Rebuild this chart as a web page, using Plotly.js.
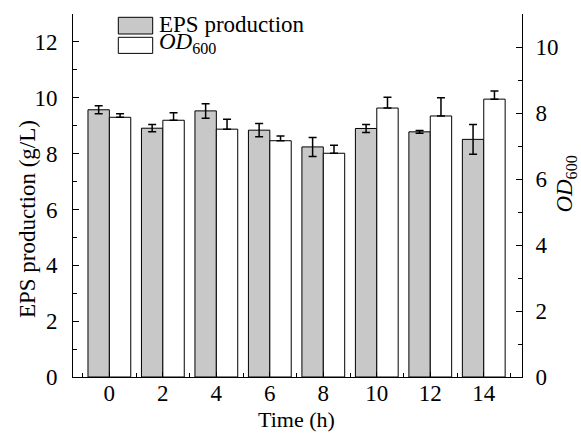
<!DOCTYPE html>
<html>
<head>
<meta charset="utf-8">
<script src="https://cdn.plot.ly/plotly-3.0.1.min.js"></script>
<style>html,body{margin:0;padding:0;background:#fff;}#chart{width:581px;height:433px;}</style>
</head>
<body>
<div id="chart"></div>
<script>
// Data
var time = [0, 2, 4, 6, 8, 10, 12, 14];
var epsProduction = [9.57, 8.91, 9.53, 8.84, 8.24, 8.90, 8.78, 8.51];
var epsError = [0.14, 0.13, 0.26, 0.24, 0.34, 0.14, 0.05, 0.53];
var od600 = [7.87, 7.78, 7.51, 7.16, 6.78, 8.15, 7.91, 8.42];
var odError = [0.11, 0.23, 0.30, 0.14, 0.24, 0.33, 0.55, 0.25];
var xTickVals = [0, 2, 4, 6, 8, 10, 12, 14];
var yTickVals = [0, 2, 4, 6, 8, 10, 12];
var y2TickVals = [0, 2, 4, 6, 8, 10];

var FONT = '"Liberation Serif", "Times New Roman", serif';
var zeros = od600.map(function(){ return 0; });

var traces = [
  {
    type: 'bar', name: 'EPS production', x: time, y: epsProduction,
    width: 0.8, offset: -0.8, yaxis: 'y',
    marker: {color: '#c8c8c8', line: {color: '#000', width: 1}},
    error_y: {type: 'data', array: epsError, visible: true, color: '#000', thickness: 1.5, width: 4},
    showlegend: false
  },
  {
    type: 'bar', name: 'OD600', x: time, y: od600,
    width: 0.8, offset: 0, yaxis: 'y2',
    marker: {color: '#ffffff', line: {color: '#000', width: 1}},
    error_y: {type: 'data', symmetric: false, array: odError, arrayminus: zeros, visible: true, color: '#000', thickness: 1.5, width: 4},
    showlegend: false
  }
];

var tickFont = {family: FONT, size: 23, color: '#000'};

var layout = {
  width: 581, height: 433,
  margin: {l: 73, r: 59, t: 14, b: 56, pad: 0},
  paper_bgcolor: '#fff', plot_bgcolor: '#fff',
  font: {family: FONT, size: 22, color: '#000'},
  showlegend: false,
  xaxis: {
    range: [-1.36, 15.43], tickmode: 'array', tickvals: xTickVals,
    ticks: 'inside', ticklen: 5, tickwidth: 1, tickcolor: '#000',
    minor: {ticks: 'inside', ticklen: 4, dtick: 1, tick0: 0, tickcolor: '#000', showgrid: false},
    showline: true, linecolor: '#000', linewidth: 1,
    showgrid: false, zeroline: false, tickfont: tickFont, ticklabelstandoff: -5
  },
  yaxis: {
    range: [0, 13], tickmode: 'array', tickvals: yTickVals,
    ticks: 'inside', ticklen: 6, tickwidth: 1, tickcolor: '#000',
    minor: {ticks: 'inside', ticklen: 4, dtick: 1, tick0: 0, tickcolor: '#000', showgrid: false},
    showline: true, linecolor: '#000', linewidth: 1,
    showgrid: false, zeroline: false, tickfont: tickFont, ticklabelstandoff: 10
  },
  yaxis2: {
    range: [0, 11], overlaying: 'y', side: 'right', tickmode: 'array', tickvals: y2TickVals,
    ticks: 'inside', ticklen: 6, tickwidth: 1, tickcolor: '#000',
    minor: {ticks: 'inside', ticklen: 4, dtick: 1, tick0: 0, tickcolor: '#000', showgrid: false},
    showline: true, linecolor: '#000', linewidth: 1,
    showgrid: false, zeroline: false, tickfont: tickFont, ticklabelstandoff: 8
  },
  shapes: [
    {type: 'rect', xref: 'paper', yref: 'paper', x0: 0.1009, x1: 0.1775, y0: 0.9449, y1: 0.9909,
     fillcolor: '#c8c8c8', line: {color: '#000', width: 1}},
    {type: 'rect', xref: 'paper', yref: 'paper', x0: 0.1009, x1: 0.1775, y0: 0.8915, y1: 0.9358,
     fillcolor: '#ffffff', line: {color: '#000', width: 1}}
  ],
  annotations: [
    {xref: 'paper', yref: 'paper', x: 0.188, y: 0.9708, xanchor: 'left', yanchor: 'middle',
     text: 'EPS production', showarrow: false, font: {family: FONT, size: 23, color: '#000'}},
    {xref: 'paper', yref: 'paper', x: 0.188, y: 0.9200, xanchor: 'left', yanchor: 'middle',
     text: '<i>OD</i><sub>600</sub>', showarrow: false, font: {family: FONT, size: 23, color: '#000'}},
    {xref: 'paper', yref: 'paper', x: 0.4967, y: -0.1165, xanchor: 'center', yanchor: 'middle',
     text: 'Time (h)', showarrow: false, font: {family: FONT, size: 22, color: '#000'}},
    {xref: 'paper', yref: 'paper', x: -0.1024, y: 0.435, xanchor: 'center', yanchor: 'middle', textangle: -90,
     text: 'EPS production (g/L)', showarrow: false, font: {family: FONT, size: 23, color: '#000'}},
    {xref: 'paper', yref: 'paper', x: 1.098, y: 0.530, xanchor: 'center', yanchor: 'middle', textangle: -90,
     text: '<i>OD</i><sub>600</sub>', showarrow: false, font: {family: FONT, size: 23, color: '#000'}}
  ]
};

Plotly.newPlot('chart', traces, layout, {displayModeBar: false, staticPlot: true});
</script>
</body>
</html>
